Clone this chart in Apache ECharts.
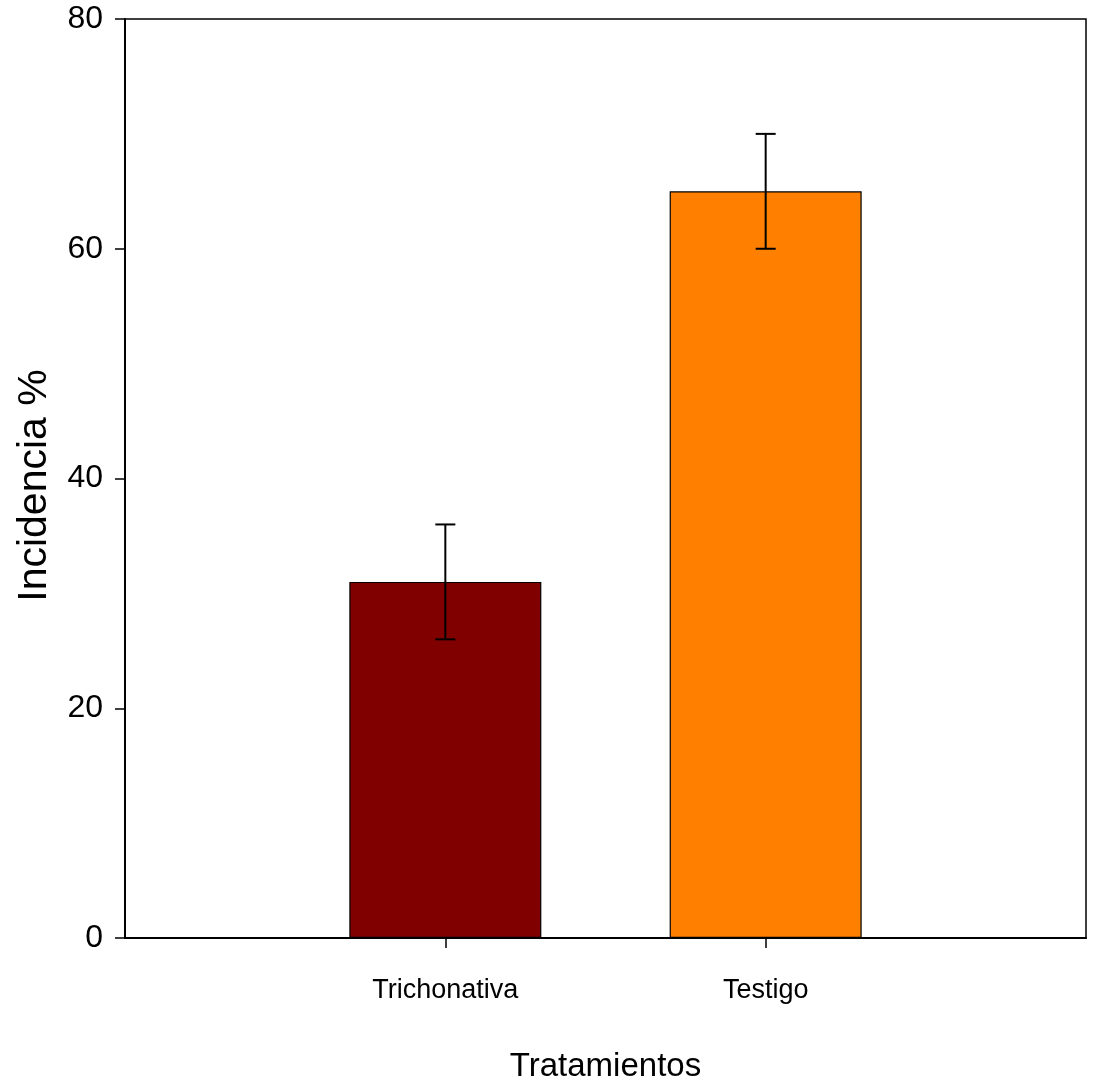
<!DOCTYPE html>
<html>
<head>
<meta charset="utf-8">
<script src="https://cdn.jsdelivr.net/npm/echarts@6/dist/echarts.min.js"></script>
<style>html,body{margin:0;padding:0;background:#fff;overflow:hidden;}#c{width:1097px;height:1088px;}</style>
</head>
<body>
<div id="c"></div>
<script>
const categories = ['', 'Trichonativa', 'Testigo', ''];
const values = [null, 31, 65, null];
const errLow = [null, 26, 60, null];
const errHigh = [null, 36, 70, null];
const barColors = ['#800000', '#800000', '#FF8000', '#FF8000'];
const yTicks = [0, 20, 40, 60, 80];

const chart = echarts.init(document.getElementById('c'));
const errData = [];
for (let i = 0; i < categories.length; i++) {
  if (values[i] !== null) errData.push([i, errLow[i], errHigh[i]]);
}
chart.setOption({
  animation: false,
  grid: { left: 125, width: 961, top: 19, height: 922, show: true, borderColor: '#000', borderWidth: 1.5, backgroundColor: 'transparent' },
  xAxis: {
    type: 'category',
    data: categories,
    boundaryGap: false,
    name: 'Tratamientos',
    nameLocation: 'middle',
    nameGap: 112,
    nameTextStyle: { fontFamily: 'Liberation Sans', fontSize: 33, color: '#000' },
    axisLine: { lineStyle: { color: '#000', width: 2 } },
    axisTick: { show: true, length: 10, interval: function (i) { return i === 1 || i === 2; }, lineStyle: { color: '#000', width: 1.5 } },
    axisLabel: { interval: 0, margin: 39, fontFamily: 'Liberation Sans', fontSize: 27, color: '#000' },
    splitLine: { show: false }
  },
  yAxis: {
    type: 'value',
    min: yTicks[0],
    max: yTicks[yTicks.length - 1],
    interval: 20,
    name: 'Incidencia %',
    nameLocation: 'middle',
    nameGap: 70,
    nameTextStyle: { fontFamily: 'Liberation Sans', fontSize: 41, color: '#000', padding: [0, 14, 0, 0] },
    axisLine: { show: true, lineStyle: { color: '#000', width: 2 } },
    axisTick: { show: true, length: 10, lineStyle: { color: '#000', width: 1.5 } },
    axisLabel: { margin: 22, fontFamily: 'Liberation Sans', fontSize: 32, color: '#000' },
    splitLine: { show: false }
  },
  series: [
    {
      type: 'bar',
      barWidth: 192,
      data: values.map((v, i) => v === null ? '-' : { value: v, itemStyle: { color: barColors[i] } }),
      itemStyle: { borderColor: '#000', borderWidth: 1.2 }
    },
    {
      type: 'custom',
      data: errData,
      z: 10,
      renderItem: function (params, api) {
        const x = api.value(0);
        const lo = api.coord([x, api.value(1)]);
        const hi = api.coord([x, api.value(2)]);
        const hw = 10;
        const st = { stroke: '#000', lineWidth: 2 };
        return {
          type: 'group',
          children: [
            { type: 'line', shape: { x1: lo[0], y1: lo[1], x2: hi[0], y2: hi[1] }, style: st },
            { type: 'line', shape: { x1: lo[0] - hw, y1: lo[1], x2: lo[0] + hw, y2: lo[1] }, style: st },
            { type: 'line', shape: { x1: hi[0] - hw, y1: hi[1], x2: hi[0] + hw, y2: hi[1] }, style: st }
          ]
        };
      }
    }
  ]
});
</script>
</body>
</html>
